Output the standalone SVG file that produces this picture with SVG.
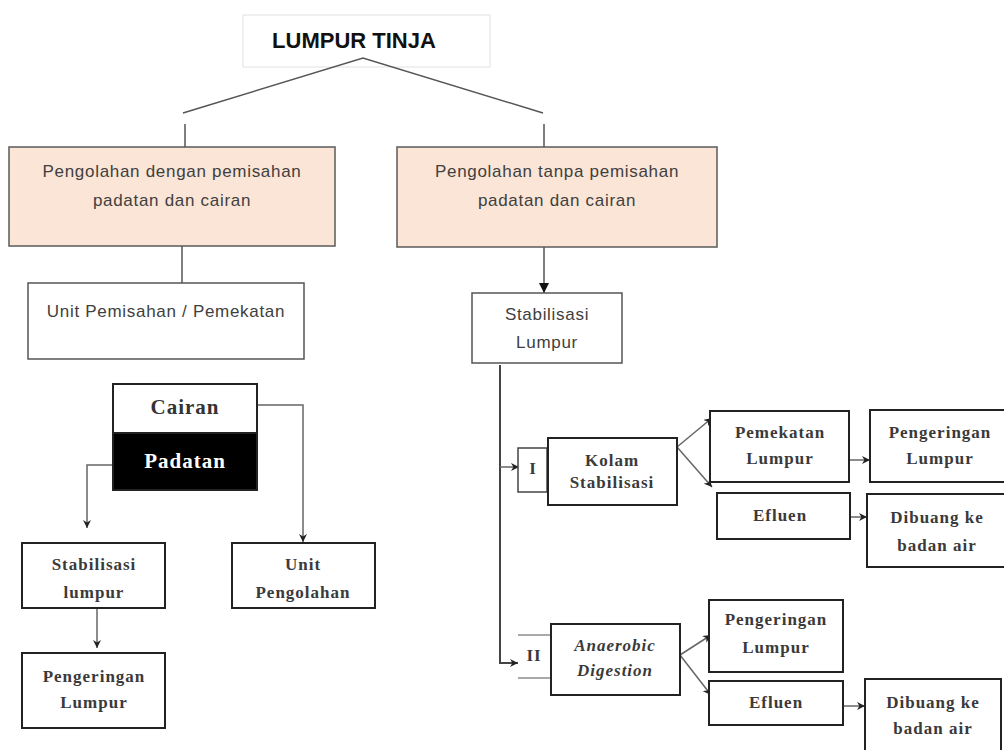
<svg xmlns="http://www.w3.org/2000/svg" width="1004" height="750" viewBox="0 0 1004 750">
<defs>
<style>
.top{font-family:"Liberation Sans",Arial,sans-serif;font-size:17px;fill:#404040;letter-spacing:0.7px;text-anchor:middle}
.title{font-family:"Liberation Sans",Arial,sans-serif;font-size:22px;font-weight:bold;fill:#111;text-anchor:middle}
.low{font-family:"Liberation Serif","Times New Roman",serif;font-size:17px;font-weight:bold;fill:#3a3a3a;letter-spacing:1px;text-anchor:middle}
.big{font-family:"Liberation Serif","Times New Roman",serif;font-size:21px;font-weight:bold;letter-spacing:1px;text-anchor:middle}
.peach{fill:#fbe5d6;stroke:#5a5a5a;stroke-width:1.5}
.wbox{fill:#fff;stroke:#555;stroke-width:1.5}
.lbox{fill:#fff;stroke:#222;stroke-width:2}
.ln{fill:none;stroke:#555;stroke-width:1.5}
.lln{fill:none;stroke:#666;stroke-width:1.5}
</style>
<marker id="ah" viewBox="0 0 10 10" refX="10" refY="5" markerWidth="10" markerHeight="10" markerUnits="userSpaceOnUse" orient="auto">
<path d="M0,0 L10,5 L0,10 z" fill="#111"/>
</marker>
<marker id="as" viewBox="0 0 10 10" refX="10" refY="5" markerWidth="8" markerHeight="8" markerUnits="userSpaceOnUse" orient="auto">
<path d="M0,0 L10,5 L0,10 L3,5 z" fill="#222"/>
</marker>
</defs>
<rect width="1004" height="750" fill="#fff"/>

<g id="lumpur-tinja">
<rect x="243" y="15" width="247" height="52" fill="#fff" stroke="#e2e2e2" stroke-width="1"/>
<text class="title" x="354" y="48">LUMPUR TINJA</text>
</g>

<g id="connectors">
<polyline class="ln" points="183,113 363,58 543,113"/>
<line class="ln" x1="185" y1="124" x2="185" y2="147"/>
<line class="ln" x1="544" y1="124" x2="544" y2="147"/>
<line class="ln" x1="182" y1="246" x2="182" y2="283"/>
<line class="ln" x1="544" y1="247" x2="544" y2="293" stroke="#222" marker-end="url(#ah)"/>
<polyline class="lln" points="113,465 87,465 87,528" marker-end="url(#as)"/>
<polyline class="lln" points="257,405 303,405 303,542" marker-end="url(#as)"/>
<line class="lln" x1="97" y1="608" x2="97" y2="648" marker-end="url(#as)"/>
<polyline fill="none" stroke="#444" stroke-width="2" points="500,365 500,663 518,663" marker-end="url(#as)"/>
<line class="lln" x1="500" y1="467" x2="519" y2="467" marker-end="url(#as)"/>
<line class="lln" x1="677" y1="447" x2="712" y2="418" marker-end="url(#as)"/>
<line class="lln" x1="677" y1="447" x2="712" y2="487" marker-end="url(#as)"/>
<line class="lln" x1="849" y1="460" x2="870" y2="460" marker-end="url(#as)"/>
<line class="lln" x1="850" y1="517" x2="867" y2="517" marker-end="url(#as)"/>
<line class="lln" x1="680" y1="655" x2="711" y2="635" marker-end="url(#as)"/>
<line class="lln" x1="680" y1="655" x2="711" y2="695" marker-end="url(#as)"/>
<line class="lln" x1="843" y1="706" x2="865" y2="706" marker-end="url(#as)"/>
</g>

<g id="dengan-pemisahan">
<rect class="peach" x="9" y="147" width="326" height="99"/>
<text class="top" x="172" y="177">Pengolahan dengan pemisahan</text>
<text class="top" x="172" y="206">padatan dan cairan</text>
</g>

<g id="tanpa-pemisahan">
<rect class="peach" x="397" y="147" width="320" height="100"/>
<text class="top" x="557" y="177">Pengolahan tanpa pemisahan</text>
<text class="top" x="557" y="206">padatan dan cairan</text>
</g>

<g id="unit-pemisahan">
<rect class="wbox" x="28" y="283" width="276" height="76"/>
<text class="top" x="166" y="317">Unit Pemisahan / Pemekatan</text>
</g>

<g id="stabilisasi-lumpur">
<rect class="wbox" x="472" y="293" width="150" height="70"/>
<text class="top" x="547" y="320">Stabilisasi</text>
<text class="top" x="547" y="348">Lumpur</text>
</g>

<g id="cairan">
<rect class="lbox" x="113" y="384" width="144" height="49"/>
<text class="big" x="185" y="414" fill="#333">Cairan</text>
</g>

<g id="padatan">
<rect x="113" y="433" width="144" height="57" fill="#000" stroke="#222" stroke-width="2"/>
<text class="big" x="185" y="468" fill="#fff">Padatan</text>
</g>

<g id="stabilisasi-lumpur-kiri">
<rect class="lbox" x="22" y="543" width="143" height="65"/>
<text class="low" x="94" y="570">Stabilisasi</text>
<text class="low" x="94" y="598">lumpur</text>
</g>

<g id="unit-pengolahan">
<rect class="lbox" x="232" y="543" width="143" height="65"/>
<text class="low" x="303" y="570">Unit</text>
<text class="low" x="303" y="598">Pengolahan</text>
</g>

<g id="pengeringan-lumpur-kiri">
<rect class="lbox" x="22" y="653" width="143" height="75"/>
<text class="low" x="94" y="682">Pengeringan</text>
<text class="low" x="94" y="708">Lumpur</text>
</g>

<g id="label-i">
<rect x="518" y="448" width="29" height="44" fill="#fff" stroke="#444" stroke-width="1.5"/>
<text class="low" x="533" y="474">I</text>
</g>

<g id="kolam-stabilisasi">
<rect class="lbox" x="548" y="438" width="129" height="67"/>
<text class="low" x="612" y="466">Kolam</text>
<text class="low" x="612" y="488">Stabilisasi</text>
</g>

<g id="pemekatan-lumpur">
<rect class="lbox" x="710" y="411" width="139" height="71"/>
<text class="low" x="780" y="438">Pemekatan</text>
<text class="low" x="780" y="464">Lumpur</text>
</g>

<g id="pengeringan-lumpur-1">
<rect class="lbox" x="870" y="410" width="140" height="72"/>
<text class="low" x="940" y="438">Pengeringan</text>
<text class="low" x="940" y="464">Lumpur</text>
</g>

<g id="efluen-1">
<rect class="lbox" x="717" y="493" width="133" height="46"/>
<text class="low" x="780" y="521">Efluen</text>
</g>

<g id="dibuang-1">
<rect class="lbox" x="867" y="494" width="143" height="73"/>
<text class="low" x="937" y="523">Dibuang ke</text>
<text class="low" x="937" y="551">badan air</text>
</g>

<g id="label-ii">
<polyline fill="none" stroke="#555" stroke-width="1.2" points="518,635 552,635"/>
<polyline fill="none" stroke="#555" stroke-width="1.2" points="518,678 552,678"/>
<text class="low" x="534" y="661">II</text>
</g>

<g id="anaerobic-digestion">
<rect class="lbox" x="551" y="624" width="129" height="71"/>
<text class="low" x="615" y="651" font-style="italic">Anaerobic</text>
<text class="low" x="615" y="676" font-style="italic">Digestion</text>
</g>

<g id="pengeringan-lumpur-2">
<rect class="lbox" x="709" y="600" width="134" height="72"/>
<text class="low" x="776" y="625">Pengeringan</text>
<text class="low" x="776" y="653">Lumpur</text>
</g>

<g id="efluen-2">
<rect class="lbox" x="709" y="681" width="134" height="44"/>
<text class="low" x="776" y="708">Efluen</text>
</g>

<g id="dibuang-2">
<rect class="lbox" x="865" y="679" width="136" height="80"/>
<text class="low" x="933" y="708">Dibuang ke</text>
<text class="low" x="933" y="734">badan air</text>
</g>
</svg>
